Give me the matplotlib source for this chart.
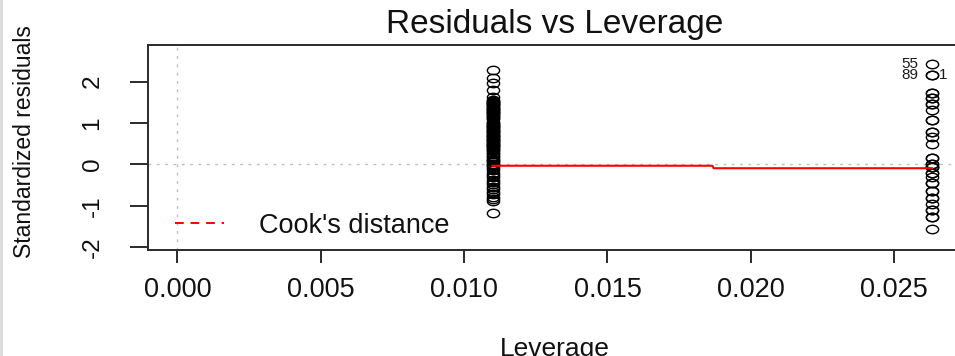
import matplotlib
matplotlib.use("Agg")
import matplotlib.pyplot as plt
import numpy as np
from matplotlib.path import Path
from matplotlib.transforms import Affine2D
from matplotlib.lines import Line2D
from matplotlib.patches import Rectangle

plt.rcParams['font.family'] = ['Liberation Sans', 'DejaVu Sans']

# leverage of the two groups
lev_group1 = 0.01099
lev_group2 = 0.02632

# standardized residuals, group 1 (91 obs)
res_group1 = [2.28, 2.08, 1.96, 1.80, 1.62,
              1.55, 1.53, 1.50, 1.48, 1.46, 1.43, 1.41, 1.38, 1.36, 1.33,
              1.31, 1.29, 1.26, 1.24, 1.21, 1.19, 1.17, 1.14, 1.12, 1.10,
              1.03, 1.01, 0.98, 0.96, 0.94, 0.91, 0.89, 0.86, 0.84, 0.82,
              0.79, 0.77, 0.74, 0.72, 0.70, 0.67, 0.65, 0.62, 0.60, 0.58,
              0.55, 0.53, 0.50, 0.48, 0.46, 0.43, 0.41, 0.38, 0.36,
              0.32, 0.28, 0.25, 0.21, 0.18, 0.14, 0.11, 0.08, 0.05, 0.02,
              -0.01, -0.04,
              -0.09, -0.14, -0.20, -0.25, -0.31, -0.37, -0.43, -0.48, -0.54,
              -0.60, -0.66, -0.72, -0.78, -0.84, -0.88, -1.16,
              1.52, 1.45, 1.35, 1.27, 0.93, 0.80, 0.68, 0.57, 0.45]

# standardized residuals, group 2 (38 obs)
res_group2 = [2.42, 2.16, 2.16, 1.72, 1.60, 1.47, 1.31, 1.07, 0.78, 0.66,
              0.50, 0.15, 0.02, -0.07, -0.20, -0.30, -0.44, -0.63, -0.80,
              -0.95, -1.10, -1.28, -1.55,
              1.72, 1.60, 1.47, 1.07, 0.78, 0.15, 0.02, -0.07, -0.07, -0.20,
              -0.44, -0.63, -0.80, -1.10, -1.28]

# smoother through the points
lev_smooth = [0.01099, 0.01866, 0.01870, 0.02632]
res_smooth = [-0.03, -0.03, -0.09, -0.09]

# labelled observations
label_names = ['55', '89', '1']
label_res = [2.42, 2.16, 2.16]
label_side = ['left', 'left', 'right']

xticks = [0.000, 0.005, 0.010, 0.015, 0.020, 0.025]
yticks = [-2, -1, 0, 1, 2]

W, H = 955, 356
fig = plt.figure(figsize=(W / 100, H / 100), dpi=100)
fig.patch.set_facecolor('white')
fig.patches.append(Rectangle((0, 0), 3 / W, 1, transform=fig.transFigure,
                             facecolor='#dcdcdc', edgecolor='none'))

ax = fig.add_axes([148 / W, (H - 250) / H, (961 - 148) / W, 205 / H])

# points look like wide diamonds in the (stretched) reference
ell = Path.unit_circle().transformed(Affine2D().scale(1.45, 1.0))

ax.axhline(0, color='#bebebe', lw=1.0, linestyle=(0, (2, 4)), zorder=1)
ax.axvline(0, color='#bebebe', lw=1.0, linestyle=(0, (2, 4)), zorder=1)

for lev, res in [(lev_group1, res_group1), (lev_group2, res_group2)]:
    ax.plot([lev] * len(res), res, linestyle='none', marker=ell,
            markersize=8.8, markerfacecolor='none', markeredgecolor='black',
            markeredgewidth=1.0, zorder=2)

ax.plot(lev_smooth, res_smooth, color='red', lw=1.5, zorder=3)

for name, r, side in zip(label_names, label_res, label_side):
    if side == 'left':
        ax.annotate(name, (lev_group2, r), xytext=(-10, 0),
                    textcoords='offset points', ha='right', va='center',
                    fontsize=11, color='#1a1a1a')
    else:
        ax.annotate(name, (lev_group2, r), xytext=(5, 0),
                    textcoords='offset points', ha='left', va='center',
                    fontsize=11, color='#1a1a1a')

ax.set_xlim(-0.001026, 0.02733)
ax.set_ylim(-2.065, 2.886)
ax.set_xticks(xticks)
ax.set_xticklabels(['%.3f' % t for t in xticks])
ax.set_yticks(yticks)
ax.set_yticklabels([str(t) for t in yticks], rotation=90, va='center')

for s in ax.spines.values():
    s.set_color('#2a2a2a')
    s.set_linewidth(1.4)
ax.tick_params(axis='x', length=9.5, width=1.4, color='#2a2a2a', pad=10,
               labelsize=19.5, labelcolor='#111111')
ax.tick_params(axis='y', length=13, width=1.4, color='#2a2a2a', pad=19,
               labelsize=17.5, labelcolor='#111111')

leg_handle = Line2D([], [], color='red', lw=1.4, linestyle=(0, (4.5, 3.5)))
ax.legend([leg_handle], ["Cook's distance"], loc='center left',
          bbox_to_anchor=(0.033, 0.118), frameon=False, borderpad=0,
          borderaxespad=0, handlelength=1.8, handletextpad=1.3,
          prop={'size': 19.5}, labelcolor='#111111')

fig.text(554.5 / W, 1 - 33 / H, 'Residuals vs Leverage', ha='center',
         va='baseline', fontsize=24, color='#111111')
fig.text(554.5 / W, 1 - 356 / H, 'Leverage', ha='center', va='baseline',
         fontsize=19, color='#111111')
fig.text(25 / W, 1 - 142 / H, 'Standardized residuals', rotation=90,
         ha='center', va='center', fontsize=16.5, color='#111111')

fig.savefig('out.png', dpi=100)
